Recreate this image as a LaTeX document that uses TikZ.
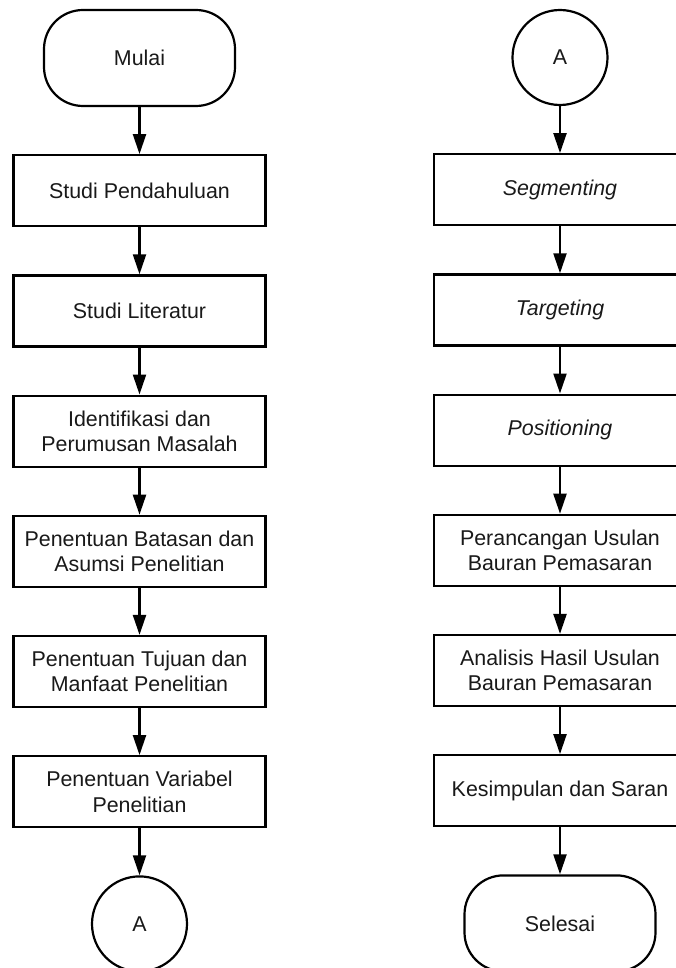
\documentclass[tikz,border=0pt]{standalone}
\usepackage{fontspec}
\setmainfont{Liberation Sans}
\usepackage{tikz}
\usetikzlibrary{arrows.meta,positioning}

\begin{document}
\begin{tikzpicture}[x=1pt, y=-1pt, font=\fontsize{21.4pt}{25.5pt}\selectfont, node distance=47pt,
  proc/.style={draw, line width=2.2pt, align=center, minimum width=252pt, minimum height=71pt, inner sep=2pt, text=black!90},
  term/.style={draw, line width=2.2pt, rounded corners=39pt, minimum width=191pt, minimum height=96pt, text=black!90},
  conn/.style={draw, line width=2.2pt, circle, minimum size=95pt, inner sep=0pt, text=black!90},
  arr/.style={-{Triangle[length=20pt, width=13pt]}, line width=2.2pt}]
\useasboundingbox (0,0) rectangle (676,968);
% kolom kiri
\node[term] (mulai) at (139.5,58) {Mulai};
\node[proc, below=of mulai] (pend) {Studi Pendahuluan};
\node[proc, below=of pend] (lit) {Studi Literatur};
\node[proc, below=of lit] (ident) {Identifikasi dan\\Perumusan Masalah};
\node[proc, below=of ident] (batas) {Penentuan Batasan dan\\Asumsi Penelitian};
\node[proc, below=of batas] (tujuan) {Penentuan Tujuan dan\\Manfaat Penelitian};
\node[proc, below=of tujuan] (var) {Penentuan Variabel\\Penelitian};
\node[conn, below=of var] (conA) {A};
% kolom kanan
\node[conn] (conB) at (560,57.5) {A};
\node[proc, below=of conB] (segm) {\textit{Segmenting}};
\node[proc, below=of segm] (targ) {\textit{Targeting}};
\node[proc, below=of targ] (posi) {\textit{Positioning}};
\node[proc, below=of posi] (ranc) {Perancangan Usulan\\Bauran Pemasaran};
\node[proc, below=of ranc] (anal) {Analisis Hasil Usulan\\Bauran Pemasaran};
\node[proc, below=of anal] (simp) {Kesimpulan dan Saran};
\node[term, below=of simp] (selesai) {Selesai};
\draw[arr] (mulai) -- (pend);
\draw[arr] (pend) -- (lit);
\draw[arr] (lit) -- (ident);
\draw[arr] (ident) -- (batas);
\draw[arr] (batas) -- (tujuan);
\draw[arr] (tujuan) -- (var);
\draw[arr] (var) -- (conA);
\draw[arr] (conB) -- (segm);
\draw[arr] (segm) -- (targ);
\draw[arr] (targ) -- (posi);
\draw[arr] (posi) -- (ranc);
\draw[arr] (ranc) -- (anal);
\draw[arr] (anal) -- (simp);
\draw[arr] (simp) -- (selesai);
\end{tikzpicture}
\end{document}
